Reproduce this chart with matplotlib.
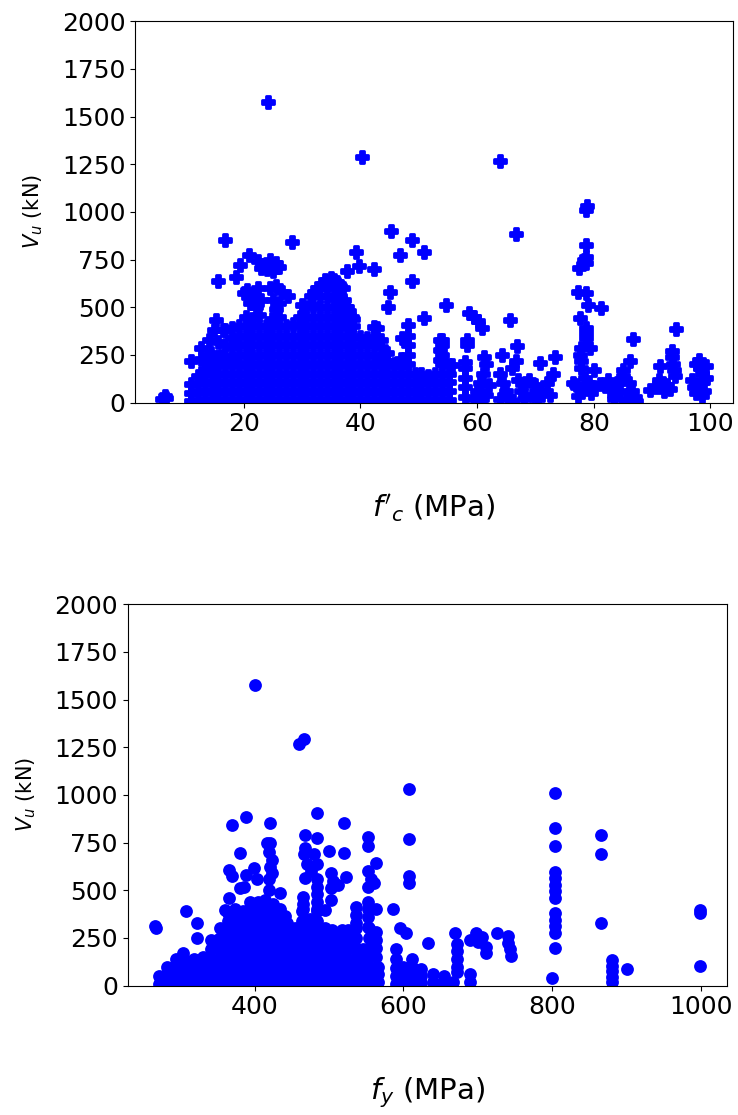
import matplotlib
matplotlib.use("Agg")
import matplotlib.pyplot as plt

# ---- top panel: V_u vs f'c ----
# dense block, read column by column (x position -> y values in that column)
fc_cols = [11.0, 12.2, 13.3, 14.5, 15.6, 16.8, 18.0, 19.1, 20.3, 21.4, 22.6, 23.8, 24.9,
           26.1, 27.2, 28.4, 29.6, 30.7, 31.9, 33.0, 34.2, 35.4, 36.5, 37.7, 38.8, 40.0,
           41.2, 42.3, 43.5, 44.6, 45.8, 47.0, 48.1, 49.3, 50.4, 51.6, 52.7, 53.9, 55.1]
vu_cols = [
    [10, 50, 95],
    [10, 55, 100, 140],
    [15, 60, 105, 150, 175],
    [10, 55, 100, 150, 195],
    [15, 60, 105, 150, 200, 240],
    [10, 55, 100, 150, 195, 245, 300, 380],
    [15, 60, 105, 150, 200, 240, 290, 340, 390],
    [10, 55, 100, 150, 195, 250, 300, 350, 400],
    [15, 60, 105, 150, 200, 250, 300, 350, 400, 450],
    [10, 55, 100, 150, 195, 245, 300, 350, 400, 440],
    [15, 60, 105, 150, 200, 250, 300, 350, 400, 460],
    [10, 55, 100, 150, 195, 250, 300, 350, 400],
    [15, 60, 105, 150, 200, 250, 300, 350, 400, 440],
    [10, 55, 100, 150, 195, 250, 300, 350, 400, 450],
    [15, 60, 105, 150, 200, 250, 300, 350, 400],
    [10, 55, 100, 150, 195, 250, 300, 350, 410],
    [15, 60, 105, 150, 200, 250, 300, 350, 400, 450],
    [10, 55, 100, 150, 195, 250, 300, 350, 400, 450, 500],
    [15, 60, 105, 150, 200, 250, 300, 350, 400, 450, 510],
    [10, 55, 100, 150, 195, 250, 300, 350, 400, 450, 500, 560],
    [15, 60, 105, 150, 200, 250, 300, 350, 400, 450, 500, 560, 610],
    [10, 55, 100, 150, 195, 250, 300, 350, 400, 450, 500, 550, 600, 640],
    [15, 60, 105, 150, 200, 250, 300, 350, 400, 450, 500, 550, 610],
    [10, 55, 100, 150, 195, 250, 300, 350, 400, 450, 500],
    [15, 60, 105, 150, 200, 250, 300, 350, 400, 440],
    [10, 55, 100, 150, 195, 250, 300, 345],
    [15, 60, 105, 150, 200, 250, 300, 340],
    [10, 55, 100, 150, 195, 250, 300, 345, 395],
    [15, 60, 105, 150, 200, 240, 290, 330],
    [10, 55, 100, 150, 195, 220, 260],
    [15, 60, 105, 150, 200],
    [10, 55, 100, 150, 190, 230],
    [15, 60, 105, 150, 200, 250, 300, 350, 407],
    [10, 55, 100, 150],
    [15, 60, 105, 150],
    [10, 55, 100, 140],
    [15, 60, 105, 150],
    [10, 55, 100, 150, 200, 250, 300, 330],
    [15, 60, 105, 150, 198],
]

# scattered points above / around the block
fc_upper = [24.1, 40.3, 16.7, 28.3, 39.2, 39.7, 42.3, 37.7, 20.8, 19.4, 18.6, 15.5,
            22.5, 23.5, 24.5, 25.5, 24.0, 26.0, 25.0, 23.0, 45.3, 48.8, 46.7, 50.9,
            48.8, 45.1, 44.8, 54.6, 50.9, 42.8, 58.6, 59.4, 60.2, 60.8, 65.7,
            20.5, 21.5, 22.5, 21.0, 22.0, 23.0, 24.5, 25.5, 26.5, 25.0, 26.0, 27.5,
            25.5, 20.0, 30.0, 31.5, 32.5, 34.0, 35.0, 36.0, 37.0, 35.8, 37.2, 37.5,
            38.0, 38.5, 37.5, 38.0, 15.2, 14.8, 16.5, 14.0, 15.6, 12.6, 14.4, 16.1,
            10.9, 12.6, 13.5, 15.2, 6.4, 6.0, 6.7, 33.5, 32.0]
vu_upper = [1575, 1290, 851, 841, 790, 715, 700, 690, 773, 722, 658, 637,
            740, 720, 745, 730, 700, 710, 690, 705, 900, 851, 775, 790,
            639, 578, 503, 512, 442, 392, 468, 451, 425, 392, 435,
            590, 560, 600, 520, 500, 540, 600, 610, 580, 540, 520, 560,
            490, 575, 510, 560, 600, 640, 655, 630, 600, 560, 540, 500,
            480, 450, 420, 395, 433, 380, 380, 330, 316, 287, 262, 245,
            216, 230, 216, 225, 33, 20, 25, 620, 580]

# higher-strength concrete (x > 50)
fc_hs = [64.0, 78.6, 78.8, 66.6,
         53.7, 53.7, 53.7, 55.7, 47.1,
         58.0, 58.0, 58.0, 58.0, 58.0, 59.5, 60.0, 60.5, 61.0, 61.5, 62.0, 60.5, 61.5,
         61.2, 58.2, 58.2,
         64.3, 64.0, 64.5, 65.0, 65.5, 66.0, 66.8, 66.6, 67.0, 67.5, 68.0, 66.0, 64.0, 68.3,
         68.9, 70.0, 70.8, 71.0, 72.0, 73.0, 72.5, 70.5, 73.4, 69.5,
         78.6, 78.6, 78.6, 78.3, 77.5, 77.3, 78.6, 79.1, 81.3, 77.7, 78.6, 78.6, 78.6,
         77.8, 77.6, 77.8, 77.8, 79.4, 80.0, 77.0, 78.0, 79.0, 80.0, 81.0, 82.0, 77.3,
         76.5, 78.5, 79.5,
         82.5, 83.0, 83.5, 84.0, 84.5, 85.0, 85.1, 86.3, 86.0, 86.5, 87.0, 87.3, 86.8,
         83.5, 85.5,
         89.7, 90.5, 91.2, 91.4, 91.8, 92.5, 93.4, 93.5, 93.6, 93.8, 94.0, 94.1, 93.0, 92.0,
         96.8, 97.2, 97.5, 98.0, 98.3, 98.5, 98.8, 99.0, 98.5, 97.5, 99.2, 99.2]
vu_hs = [1265, 1010, 1030, 885,
         329, 277, 225, 198, 339,
         30, 80, 130, 180, 215, 20, 60, 100, 150, 40, 90, 15, 200,
         240, 329, 300,
         251, 150, 100, 60, 30, 180, 294, 216, 120, 60, 20, 10, 20, 100,
         120, 90, 207, 60, 100, 150, 40, 20, 240, 40,
         825, 764, 731, 745, 703, 581, 573, 512, 494, 442, 390, 364, 338,
         286, 251, 216, 181, 286, 172, 90, 70, 100, 80, 95, 85, 33,
         100, 130, 50,
         120, 80, 40, 100, 60, 140, 172, 216, 100, 60, 30, 10, 333,
         20, 15,
         68, 80, 120, 190, 103, 90, 268, 238, 204, 172, 137, 383, 70, 60,
         120, 80, 200, 225, 180, 150, 110, 60, 35, 50, 190, 130]

# ---- bottom panel: V_u vs f_y ----
fy_cols = [272, 282, 294, 306, 318, 330, 342, 354, 364, 374, 384, 394, 404, 414, 424,
           434, 444, 454, 464, 474, 484, 494, 504, 514, 524, 536, 546, 554, 566, 590,
           600, 612, 624, 640, 654, 666, 690]
vu2_cols = [
    [10, 50],
    [15, 55, 100],
    [10, 50, 95, 140],
    [15, 55, 100, 135],
    [10, 50, 95, 140],
    [15, 55, 100, 150],
    [10, 50, 95, 140, 190, 240],
    [15, 55, 100, 150, 200, 250, 300],
    [10, 50, 95, 140, 190, 240, 290, 340, 380],
    [15, 55, 100, 150, 200, 250, 300, 350, 400],
    [10, 50, 95, 140, 190, 240, 290, 340, 390],
    [15, 55, 100, 150, 200, 250, 300, 350, 400, 440],
    [10, 50, 95, 140, 190, 240, 290, 340, 390, 440],
    [15, 55, 100, 150, 200, 250, 300, 350, 400, 450],
    [10, 50, 95, 140, 190, 240, 290, 340, 390, 430],
    [15, 55, 100, 150, 200, 250, 300, 350, 400],
    [10, 50, 95, 140, 190, 240, 290, 330],
    [15, 55, 100, 150, 200, 250, 300],
    [10, 50, 95, 140, 190, 240, 290, 340, 390],
    [15, 55, 100, 150, 200, 250, 300, 350],
    [10, 50, 95, 140, 190, 240, 290, 340, 390],
    [15, 55, 100, 150, 200, 250, 300],
    [10, 50, 95, 140, 190, 240, 290],
    [15, 55, 100, 150, 200, 250],
    [10, 50, 95, 140, 190, 240],
    [15, 55, 100, 150, 200, 250, 300],
    [10, 50, 95, 140, 190],
    [15, 55, 100, 150, 200, 250, 300],
    [20, 60, 100],
    [10, 50, 95, 140, 190],
    [15, 55, 100],
    [20, 60, 100, 140],
    [15, 50, 90],
    [20, 60],
    [15, 50],
    [20],
    [20, 60],
]

fy_upper = [400, 460, 466, 389, 369, 421, 484, 520, 380, 468, 484, 468, 500, 520,
            552, 552, 607, 607, 607, 607,
            803, 803, 803, 803, 803, 803, 803, 803, 803, 803, 803, 803, 803, 799,
            865, 865, 865, 880, 880, 880, 880, 880, 900, 998, 998, 998]
vu2_upper = [1575, 1270, 1295, 887, 843, 855, 905, 855, 698, 790, 773, 720, 708, 698,
             780, 730, 1030, 768, 576, 541,
             1012, 826, 733, 598, 565, 530, 495, 459, 382, 345, 312, 277, 197, 38,
             790, 690, 331, 135, 105, 75, 45, 18, 85, 398, 382, 105]

fy_mid = [266, 268, 308, 323, 323, 304, 284, 349, 360, 365, 365, 369, 380, 386, 389,
          399, 403, 417, 421, 419, 423, 421, 423, 419, 419, 434, 441, 470, 484, 466,
          480, 476, 468, 484, 465, 465, 465, 484, 484, 484, 484, 495, 502, 523, 505,
          512, 502, 502, 518, 525, 536, 536, 536, 563, 552, 556, 552, 561, 552, 552,
          563, 552, 552, 563, 563, 563, 563, 586, 595, 603, 633, 669, 698, 725, 741,
          741, 743, 745, 711, 711, 690, 700, 706, 672, 672, 672, 672, 672]
vu2_mid = [315, 305, 390, 331, 250, 171, 95, 241, 398, 461, 607, 575, 510, 520, 581,
           616, 560, 747, 747, 700, 660, 620, 590, 560, 503, 485, 363, 640, 640, 690,
           690, 600, 565, 560, 466, 430, 400, 520, 480, 440, 400, 398, 590, 572, 550,
           530, 510, 450, 293, 293, 415, 370, 330, 642, 600, 560, 518, 540, 441, 400,
           400, 360, 310, 280, 240, 200, 150, 402, 302, 276, 224, 276, 276, 276, 258,
           225, 190, 153, 205, 172, 240, 230, 257, 220, 180, 140, 100, 70]


def expand(xs, cols):
    px, py = [], []
    for x, ys in zip(xs, cols):
        for y in ys:
            px.append(x)
            py.append(y)
    return px, py


fc_dense, vu_dense = expand(fc_cols, vu_cols)
fy_dense, vu2_dense = expand(fy_cols, vu2_cols)

fc_all = fc_dense + fc_upper + fc_hs
vu_all = vu_dense + vu_upper + vu_hs
fy_all = fy_dense + fy_upper + fy_mid
vu2_all = vu2_dense + vu2_upper + vu2_mid

fig = plt.figure(figsize=(7.38, 11.15), dpi=100)

ax1 = fig.add_axes([0.183, 0.639, 0.810, 0.342])
ax1.scatter(fc_all, vu_all, marker='P', color='blue', s=70, linewidths=2.0)
ax1.set_ylim(0, 2000)
ax1.set_xticks([20, 40, 60, 80, 100])
ax1.set_yticks([0, 250, 500, 750, 1000, 1250, 1500, 1750, 2000])
ax1.tick_params(labelsize=18)
ax1.set_xlabel(r"$f'_c$ (MPa)", fontsize=21)
ax1.xaxis.set_label_coords(0.5, -0.235)
ax1.set_ylabel(r"$V_u$ (kN)", fontsize=15)
ax1.yaxis.set_label_coords(-0.15, 0.5)

ax2 = fig.add_axes([0.173, 0.116, 0.812, 0.342])
ax2.scatter(fy_all, vu2_all, marker='o', color='blue', s=85, linewidths=0)
ax2.set_ylim(0, 2000)
ax2.set_xticks([400, 600, 800, 1000])
ax2.set_yticks([0, 250, 500, 750, 1000, 1250, 1500, 1750, 2000])
ax2.tick_params(labelsize=18)
ax2.set_xlabel(r"$f_y$ (MPa)", fontsize=21)
ax2.xaxis.set_label_coords(0.5, -0.235)
ax2.set_ylabel(r"$V_u$ (kN)", fontsize=15)
ax2.yaxis.set_label_coords(-0.15, 0.5)

fig.savefig("out.png", dpi=100)
